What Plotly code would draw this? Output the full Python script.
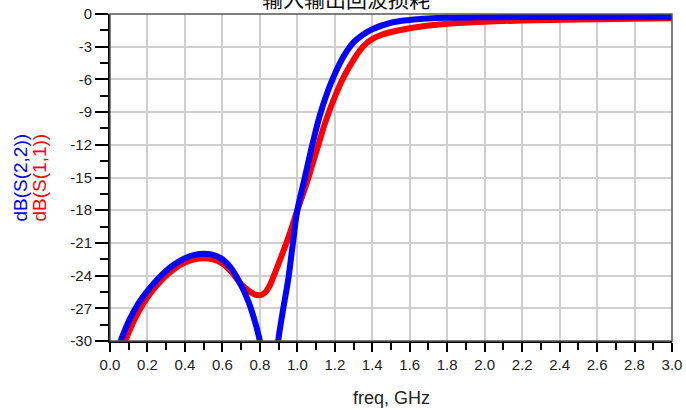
import plotly.graph_objects as go

# ---- data ----
freq_s22 = [0.05, 0.1, 0.15, 0.2, 0.25, 0.3, 0.35, 0.4, 0.45, 0.5, 0.55, 0.6, 0.65, 0.7,
            0.725, 0.75, 0.775, 0.8, 0.825, 0.85, 0.87, 0.9, 0.925, 0.95, 0.975, 1.0,
            1.04, 1.08, 1.12, 1.16, 1.2, 1.25, 1.3, 1.35, 1.4, 1.5, 1.6, 1.7, 1.8, 2.0,
            2.2, 2.5, 2.8, 3.0]
db_s22 = [-30.3, -28.2, -26.6, -25.4, -24.4, -23.55, -22.9, -22.4, -22.1, -22.0, -22.1,
          -22.5, -23.4, -24.9, -25.8, -26.9, -28.3, -30.0, -33.0, -38.0, -34.0, -29.7,
          -27.0, -24.5, -21.2, -18.0, -15.0, -12.0, -9.3, -7.2, -5.5, -3.8, -2.6, -1.9,
          -1.4, -0.8, -0.55, -0.42, -0.35, -0.3, -0.28, -0.27, -0.26, -0.26]

freq_s11 = [0.05, 0.1, 0.15, 0.2, 0.25, 0.3, 0.35, 0.4, 0.45, 0.5, 0.55, 0.6, 0.65, 0.7,
            0.75, 0.775, 0.8, 0.825, 0.85, 0.875, 0.9, 0.95, 1.0, 1.05, 1.1, 1.15, 1.2,
            1.25, 1.3, 1.35, 1.4, 1.45, 1.5, 1.6, 1.8, 2.0, 2.2, 2.5, 3.0]
db_s11 = [-31.5, -29.2, -27.4, -26.0, -24.9, -24.0, -23.3, -22.8, -22.5, -22.4, -22.5,
          -22.9, -23.7, -24.8, -25.5, -25.75, -25.8, -25.6, -25.0, -24.0, -22.9, -20.6,
          -18.0, -15.5, -12.7, -9.9, -7.6, -5.7, -4.2, -3.0, -2.3, -1.9, -1.65, -1.3,
          -0.9, -0.7, -0.6, -0.5, -0.4]

x_ticks = [round(0.2 * i, 1) for i in range(16)]
x_tick_labels = [f"{v:.1f}" for v in x_ticks]
y_ticks = list(range(0, -31, -3))
y_tick_labels = [str(v) for v in y_ticks]

title_text = "输入输出回波损耗"
x_title = "freq, GHz"
s22_name = "dB(S(2,2))"
s11_name = "dB(S(1,1))"

FONT = "Liberation Sans, Arial, sans-serif"

fig = go.Figure()
fig.add_trace(go.Scatter(x=freq_s11, y=db_s11, mode="lines", name=s11_name,
                         line=dict(color="#ff0000", width=6, shape="spline", smoothing=1.0)))
fig.add_trace(go.Scatter(x=freq_s22, y=db_s22, mode="lines", name=s22_name,
                         line=dict(color="#0000ff", width=6, shape="spline", smoothing=1.0)))

fig.update_layout(
    width=686, height=410,
    margin=dict(l=110, r=14, t=14, b=69),
    paper_bgcolor="white", plot_bgcolor="white",
    showlegend=False,
    font=dict(family=FONT, size=15, color="#222"),
)

fig.update_xaxes(
    range=[0, 3.0], tickmode="array", tickvals=x_ticks, ticktext=x_tick_labels,
    showgrid=True, gridcolor="#cfcfcf", gridwidth=1.5,
    showline=True, linecolor="black", linewidth=2,
    ticks="outside", ticklen=9, tickcolor="black", tickwidth=1.5,
    minor=dict(dtick=0.1, ticks="outside", ticklen=7, tickcolor="black", tickwidth=1.5, showgrid=False),
    zeroline=False, automargin=False, tickfont=dict(size=15, family=FONT, color="#222"),
)
fig.update_yaxes(
    range=[-30, 0], tickmode="array", tickvals=y_ticks, ticktext=y_tick_labels,
    showgrid=True, gridcolor="#cfcfcf", gridwidth=1.5,
    showline=True, linecolor="black", linewidth=2,
    ticks="outside", ticklen=13, tickcolor="black", tickwidth=1.5,
    minor=dict(dtick=1.5, ticks="outside", ticklen=8, tickcolor="black", tickwidth=1.5, showgrid=False),
    zeroline=False, automargin=False, tickfont=dict(size=15, family=FONT, color="#222"),
)

# frame on top / right
fig.add_shape(type="rect", xref="paper", yref="paper", x0=0, y0=0, x1=1, y1=1,
              line=dict(color="#555", width=1.5), layer="above")

fig.add_annotation(text=title_text, xref="paper", yref="paper", x=0.42, y=1.05,
                   xanchor="center", yanchor="middle", showarrow=False,
                   font=dict(family="Noto Sans CJK SC", size=21, color="#111"))
fig.add_annotation(text=x_title, xref="paper", yref="paper", x=0.5, y=-0.174,
                   xanchor="center", yanchor="middle", showarrow=False,
                   font=dict(family=FONT, size=18, color="#222"))
fig.add_annotation(text=s22_name, xref="paper", yref="paper", x=-0.160, y=0.5,
                   xanchor="center", yanchor="middle", showarrow=False, textangle=-90,
                   font=dict(family=FONT, size=19, color="#0000ff"))
fig.add_annotation(text=s11_name, xref="paper", yref="paper", x=-0.1246, y=0.5,
                   xanchor="center", yanchor="middle", showarrow=False, textangle=-90,
                   font=dict(family=FONT, size=19, color="#ff0000"))

fig.write_html("out.html", config={"displayModeBar": False},
               post_script="document.body.style.margin='0';document.body.style.padding='0';")
